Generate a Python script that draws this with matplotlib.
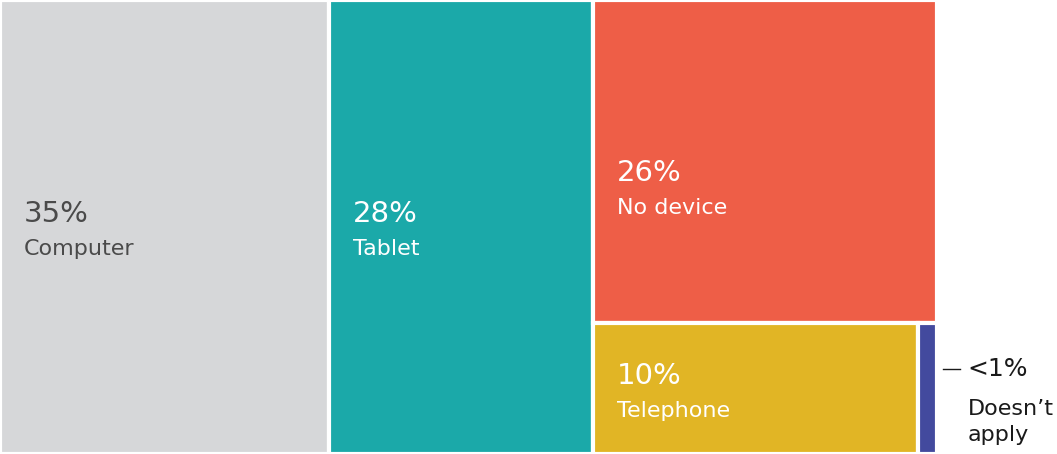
import matplotlib
matplotlib.use("Agg")
import matplotlib.pyplot as plt
from matplotlib.patches import Rectangle

plt.rcParams['font.family'] = ['DejaVu Sans']

categories = ['Computer', 'Tablet', 'No device', 'Telephone', 'Doesn\u2019t\napply']
values = [35, 28, 26, 10, 0.6]
value_labels = ['35%', '28%', '26%', '10%', '<1%']
colors = ['#d6d7d9', '#1ba9a9', '#ee5e47', '#e1b525', '#434a9e']
text_colors = ['#4a4a4a', 'white', 'white', 'white', '#1a1a1a']

W, H = 1057, 454
tree_w = 937

fig = plt.figure(figsize=(W / 100, H / 100), dpi=100)
ax = fig.add_axes([0, 0, 1, 1])
ax.set_xlim(0, W)
ax.set_ylim(H, 0)
ax.axis('off')

total = sum(values)
# two full-height columns, then a third column split into a top block and a bottom row
col_w = [v / total * tree_w for v in values[:2]]
x0 = 0
rects = []
for w in col_w:
    rects.append((x0, 0, w, H))
    x0 += w
rest = values[2:]
rest_w = tree_w - x0
top_h = rest[0] / sum(rest) * H
rects.append((x0, 0, rest_w, top_h))
row = rest[1:]
xb = x0
for v in row:
    w = v / sum(row) * rest_w
    rects.append((xb, top_h, w, H - top_h))
    xb += w

for (x, y, w, h), c in zip(rects, colors):
    ax.add_patch(Rectangle((x, y), w, h, facecolor=c, edgecolor='white', linewidth=3))

# label anchor y (centre of the percentage line) for the first four boxes
pct_y = [214, 214, 173, 376]
for i in range(4):
    x, y, w, h = rects[i]
    ax.text(x + 24, pct_y[i], value_labels[i], color=text_colors[i], fontsize=21,
            va='center', ha='left')
    ax.text(x + 24, pct_y[i] + 35, categories[i], color=text_colors[i], fontsize=16,
            va='center', ha='left')

# external label for the smallest box
x, y, w, h = rects[4]
ly = 369
ax.plot([x + w + 6, x + w + 23], [ly, ly], color='#1a1a1a', linewidth=1)
ax.text(x + w + 30, ly, value_labels[4], color=text_colors[4], fontsize=18,
        va='center', ha='left')
ax.text(x + w + 31, 422, categories[4], color=text_colors[4], fontsize=16,
        va='center', ha='left', linespacing=1.35)

fig.savefig('out.png', dpi=100)
